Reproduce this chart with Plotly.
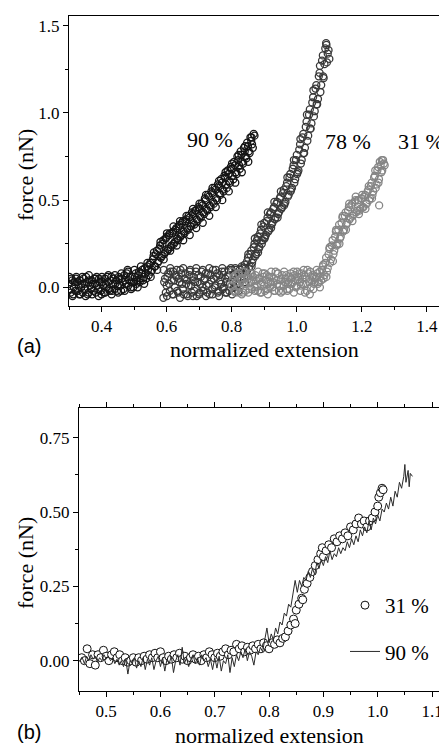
import plotly.graph_objects as go

# The page body has an 8px margin; the figure is sized to fill the rest of the 447x747 window.
OFF = 8
W, H = 447 - OFF, 747 - OFF

# ---------------- Panel (a) data ----------------
a90_x = [0.300,0.305,0.310,0.315,0.320,0.325,0.330,0.335,0.340,0.345,0.350,0.355,0.360,0.365,0.370,0.375,0.380,0.385,0.390,0.395,
         0.400,0.405,0.410,0.415,0.420,0.425,0.430,0.435,0.440,0.445,0.450,0.455,0.460,0.465,0.470,0.475,0.480,0.485,0.490,0.495,
         0.500,0.505,0.510,0.515,0.520,0.525,0.530,0.535,0.540,0.545,0.550,0.555,0.560,0.565,0.570,0.575,0.580,0.585,0.590,0.595,
         0.600,0.605,0.610,0.615,0.620,0.625,0.630,0.635,0.640,0.645,0.650,0.655,0.660,0.665,0.670,0.675,0.680,0.685,0.690,0.695,
         0.700,0.705,0.710,0.715,0.720,0.725,0.730,0.735,0.740,0.745,0.750,0.755,0.760,0.765,0.770,0.775,0.780,0.785,0.790,0.795,
         0.800,0.805,0.810,0.815,0.820,0.825,0.830,0.835,0.840,0.845,0.850,0.855,0.860,0.865,0.870]
a90_y = [0.02,-0.03,0.04,0.00,-0.02,0.03,0.01,-0.04,0.02,0.05,-0.01,0.03,-0.03,0.01,0.04,-0.02,0.02,0.06,-0.01,0.03,
         -0.04,0.01,0.05,0.00,0.03,-0.02,0.06,0.02,-0.01,0.04,0.01,0.05,-0.02,0.03,0.07,0.02,0.10,0.04,0.00,0.06,
         0.03,0.08,0.04,0.09,0.05,0.10,0.06,0.08,0.12,0.07,0.14,0.10,0.18,0.12,0.21,0.15,0.24,0.18,0.27,0.20,
         0.29,0.22,0.31,0.24,0.32,0.26,0.34,0.27,0.36,0.30,0.38,0.31,0.39,0.33,0.40,0.35,0.42,0.36,0.44,0.38,
         0.45,0.40,0.47,0.42,0.50,0.44,0.52,0.46,0.54,0.48,0.56,0.50,0.58,0.53,0.60,0.55,0.63,0.57,0.65,0.60,
         0.68,0.62,0.70,0.65,0.73,0.68,0.76,0.71,0.78,0.74,0.81,0.77,0.84,0.80,0.87]
a90b_x = [0.3025,0.3075,0.3125,0.3175,0.3225,0.3275,0.3325,0.3375,0.3425,0.3475,0.3525,0.3575,0.3625,0.3675,0.3725,0.3775,0.3825,0.3875,0.3925,0.3975,
          0.4025,0.4075,0.4125,0.4175,0.4225,0.4275,0.4325,0.4375,0.4425,0.4475,0.4525,0.4575,0.4625,0.4675,0.4725,0.4775,0.4825,0.4875,0.4925,0.4975,
          0.5025,0.5075,0.5125,0.5175,0.5225,0.5275,0.5325,0.5375,0.5425,0.5475,0.5525,0.5575,0.5625,0.5675,0.5725,0.5775,0.5825,0.5875,0.5925,0.5975,
          0.6025,0.6075,0.6125,0.6175,0.6225,0.6275,0.6325,0.6375,0.6425,0.6475,0.6525,0.6575,0.6625,0.6675,0.6725,0.6775,0.6825,0.6875,0.6925,0.6975,
          0.7025,0.7075,0.7125,0.7175,0.7225,0.7275,0.7325,0.7375,0.7425,0.7475,0.7525,0.7575,0.7625,0.7675,0.7725,0.7775,0.7825,0.7875,0.7925,0.7975,
          0.8025,0.8075,0.8125,0.8175,0.8225,0.8275,0.8325,0.8375,0.8425,0.8475,0.8525,0.8575,0.8625,0.8675]
a90b_y = [-0.01,0.05,-0.04,0.03,0.06,-0.02,0.04,0.00,-0.03,0.02,0.06,-0.04,0.04,-0.01,0.02,0.05,-0.03,0.01,0.05,-0.02,
          0.03,-0.03,0.02,0.06,-0.01,0.04,-0.02,0.05,0.02,-0.02,0.06,0.01,0.05,-0.01,0.04,0.08,0.01,0.06,0.03,0.00,
          0.06,0.02,0.07,0.03,0.08,0.04,0.11,0.05,0.10,0.13,0.09,0.16,0.12,0.19,0.14,0.22,0.17,0.25,0.19,0.28,
          0.21,0.30,0.23,0.31,0.25,0.33,0.28,0.35,0.29,0.37,0.32,0.38,0.34,0.41,0.35,0.43,0.37,0.44,0.39,0.46,
          0.41,0.48,0.43,0.51,0.45,0.53,0.47,0.55,0.49,0.57,0.51,0.59,0.54,0.62,0.56,0.64,0.59,0.67,0.61,0.69,
          0.64,0.72,0.66,0.75,0.70,0.78,0.72,0.80,0.75,0.83,0.78,0.86,0.82,0.88]
a90c_x = [0.301,0.311,0.321,0.331,0.341,0.351,0.361,0.371,0.381,0.391,0.401,0.411,0.421,0.431,0.441,0.451,0.461,0.471,0.481,0.491,
          0.501,0.511,0.521,0.531,0.541,0.551,0.561,0.571,0.581,0.591,0.601,0.611,0.621,0.631,0.641,0.651,0.661,0.671,0.681,0.691,
          0.701,0.711,0.721,0.731,0.741,0.751,0.761,0.771,0.781,0.791,0.801,0.811,0.821,0.831,0.841,0.851,0.861]
a90c_y = [0.06,-0.05,0.05,-0.04,0.06,-0.05,0.07,-0.04,0.05,-0.05,0.06,-0.03,0.07,-0.04,0.07,-0.03,0.08,-0.02,0.09,-0.01,
          0.10,0.00,0.12,0.02,0.14,0.06,0.20,0.10,0.26,0.16,0.31,0.21,0.35,0.24,0.38,0.27,0.41,0.30,0.45,0.34,
          0.48,0.37,0.53,0.41,0.57,0.46,0.61,0.50,0.66,0.55,0.71,0.60,0.76,0.66,0.81,0.72,0.86]

a78_x = [0.590,0.595,0.600,0.605,0.610,0.615,0.620,0.625,0.630,0.635,0.640,0.645,0.650,0.655,0.660,0.665,0.670,0.675,0.680,0.685,
         0.690,0.695,0.700,0.705,0.710,0.715,0.720,0.725,0.730,0.735,0.740,0.745,0.750,0.755,0.760,0.765,0.770,0.775,0.780,0.785,
         0.790,0.795,0.800,0.805,0.810,0.815,0.820,0.825,0.830,0.835,0.840,0.845,0.850,0.855,0.860,0.865,0.870,0.875,0.880,0.885,
         0.890,0.895,0.900,0.905,0.910,0.915,0.920,0.925,0.930,0.935,0.940,0.945,0.950,0.955,0.960,0.965,0.970,0.975,0.980,0.985,
         0.990,0.995,1.000,1.005,1.010,1.015,1.020,1.025,1.030,1.035,1.040,1.045,1.050,1.055,1.060,1.065,1.070,1.075,1.080,1.085,
         1.090,1.095,1.100]
a78_y = [-0.06,0.05,0.01,0.08,-0.02,0.04,0.09,0.00,0.06,-0.03,0.03,0.08,-0.01,0.05,0.02,-0.05,0.07,0.01,0.04,-0.02,
         0.09,0.03,-0.04,0.06,0.00,0.04,0.08,-0.03,0.02,0.07,-0.01,0.05,0.01,0.08,-0.02,0.04,0.09,0.00,0.05,-0.03,
         0.07,0.02,0.10,0.03,0.08,0.01,0.06,0.10,0.04,0.08,0.13,0.09,0.17,0.12,0.21,0.16,0.25,0.19,0.29,0.23,
         0.33,0.27,0.37,0.30,0.40,0.33,0.43,0.37,0.46,0.40,0.49,0.43,0.52,0.46,0.56,0.49,0.60,0.53,0.65,0.57,
         0.70,0.62,0.76,0.67,0.82,0.73,0.88,0.80,0.95,0.87,1.02,0.94,1.09,1.01,1.16,1.08,1.23,1.16,1.33,1.28,
         1.40,1.34,1.31]
a78b_x = [0.5925,0.5975,0.6025,0.6075,0.6125,0.6175,0.6225,0.6275,0.6325,0.6375,0.6425,0.6475,0.6525,0.6575,0.6625,0.6675,0.6725,0.6775,0.6825,0.6875,
          0.6925,0.6975,0.7025,0.7075,0.7125,0.7175,0.7225,0.7275,0.7325,0.7375,0.7425,0.7475,0.7525,0.7575,0.7625,0.7675,0.7725,0.7775,0.7825,0.7875,
          0.7925,0.7975,0.8025,0.8075,0.8125,0.8175,0.8225,0.8275,0.8325,0.8375,0.8425,0.8475,0.8525,0.8575,0.8625,0.8675,0.8725,0.8775,0.8825,0.8875,
          0.8925,0.8975,0.9025,0.9075,0.9125,0.9175,0.9225,0.9275,0.9325,0.9375,0.9425,0.9475,0.9525,0.9575,0.9625,0.9675,0.9725,0.9775,0.9825,0.9875,
          0.9925,0.9975,1.0025,1.0075,1.0125,1.0175,1.0225,1.0275,1.0325,1.0375,1.0425,1.0475,1.0525,1.0575,1.0625,1.0675,1.0725,1.0775,1.0825,1.0875,
          1.0925,1.0975]
a78b_y = [0.03,-0.03,0.06,0.02,0.09,-0.04,0.04,0.07,-0.02,0.05,0.10,0.02,-0.04,0.08,0.04,0.01,0.10,-0.03,0.06,0.03,
          -0.05,0.07,0.02,0.09,-0.02,0.05,0.01,0.08,-0.04,0.04,0.10,0.00,0.06,-0.03,0.07,0.02,-0.01,0.09,0.03,0.06,
          -0.02,0.11,0.04,0.00,0.10,0.05,0.02,0.08,0.11,0.06,0.11,0.15,0.11,0.19,0.14,0.23,0.18,0.27,0.22,0.31,
          0.25,0.35,0.29,0.38,0.32,0.42,0.36,0.45,0.39,0.48,0.42,0.51,0.45,0.54,0.48,0.58,0.52,0.63,0.56,0.68,
          0.60,0.73,0.66,0.79,0.71,0.86,0.77,0.92,0.84,0.99,0.91,1.06,0.98,1.14,1.05,1.21,1.12,1.30,1.20,1.37,
          1.29,1.36]
a78c_x = [0.591,0.601,0.611,0.621,0.631,0.641,0.651,0.661,0.671,0.681,0.691,0.701,0.711,0.721,0.731,0.741,0.751,0.761,0.771,0.781,
          0.791,0.801,0.811,0.821,0.831,0.841,0.851,0.861,0.871,0.881,0.891,0.901,0.911,0.921,0.931,0.941,0.951,0.961,0.971,0.981,
          0.991,1.001,1.011,1.021,1.031,1.041,1.051,1.061,1.071,1.081,1.091]
a78c_y = [0.10,-0.05,0.11,-0.04,0.10,-0.06,0.11,-0.04,0.09,-0.05,0.11,-0.03,0.10,-0.05,0.11,-0.04,0.10,-0.05,0.11,-0.03,
          0.10,-0.04,0.11,-0.02,0.12,0.03,0.19,0.12,0.28,0.20,0.36,0.28,0.43,0.34,0.49,0.40,0.55,0.47,0.63,0.55,
          0.73,0.65,0.85,0.77,0.99,0.91,1.13,1.05,1.27,1.21,1.39]

a31_x = [0.800,0.805,0.810,0.815,0.820,0.825,0.830,0.835,0.840,0.845,0.850,0.855,0.860,0.865,0.870,0.875,0.880,0.885,0.890,0.895,
         0.900,0.905,0.910,0.915,0.920,0.925,0.930,0.935,0.940,0.945,0.950,0.955,0.960,0.965,0.970,0.975,0.980,0.985,0.990,0.995,
         1.000,1.005,1.010,1.015,1.020,1.025,1.030,1.035,1.040,1.045,1.050,1.055,1.060,1.065,1.070,1.075,1.080,1.085,1.090,1.095,
         1.100,1.105,1.110,1.115,1.120,1.125,1.130,1.135,1.140,1.145,1.150,1.155,1.160,1.165,1.170,1.175,1.180,1.185,1.190,1.195,
         1.200,1.205,1.210,1.215,1.220,1.225,1.230,1.235,1.240,1.245,1.250,1.253,1.255,1.260,1.265,1.270]
a31_y = [0.01,0.06,-0.02,0.03,0.08,0.00,0.04,-0.03,0.05,0.02,0.07,-0.01,0.03,0.06,0.00,0.04,-0.02,0.05,0.02,0.08,
         0.01,0.04,-0.01,0.06,0.03,0.00,0.05,0.09,0.02,-0.02,0.04,0.07,0.01,0.05,-0.01,0.03,0.06,0.02,0.09,0.04,
         0.01,0.06,0.03,0.08,0.02,-0.03,0.05,0.08,-0.04,0.04,0.07,0.03,0.06,0.02,0.09,0.04,0.12,0.07,0.17,0.11,
         0.22,0.16,0.27,0.21,0.32,0.25,0.36,0.29,0.40,0.33,0.43,0.37,0.46,0.40,0.48,0.42,0.50,0.44,0.50,0.45,
         0.51,0.46,0.53,0.48,0.56,0.51,0.60,0.55,0.64,0.59,0.69,0.47,0.72,0.66,0.73,0.70]
a31b_x = [0.8025,0.8075,0.8125,0.8175,0.8225,0.8275,0.8325,0.8375,0.8425,0.8475,0.8525,0.8575,0.8625,0.8675,0.8725,0.8775,0.8825,0.8875,0.8925,0.8975,
          0.9025,0.9075,0.9125,0.9175,0.9225,0.9275,0.9325,0.9375,0.9425,0.9475,0.9525,0.9575,0.9625,0.9675,0.9725,0.9775,0.9825,0.9875,0.9925,0.9975,
          1.0025,1.0075,1.0125,1.0175,1.0225,1.0275,1.0325,1.0375,1.0425,1.0475,1.0525,1.0575,1.0625,1.0675,1.0725,1.0775,1.0825,1.0875,1.0925,1.0975,
          1.1025,1.1075,1.1125,1.1175,1.1225,1.1275,1.1325,1.1375,1.1425,1.1475,1.1525,1.1575,1.1625,1.1675,1.1725,1.1775,1.1825,1.1875,1.1925,1.1975,
          1.2025,1.2075,1.2125,1.2175,1.2225,1.2275,1.2325,1.2375,1.2425,1.2475,1.2525,1.2575,1.2625,1.2675]
a31b_y = [0.04,-0.02,0.07,0.01,-0.03,0.05,0.09,0.02,-0.02,0.06,0.03,0.08,-0.01,0.04,0.07,0.01,0.05,-0.03,0.03,0.06,
          -0.02,0.07,0.02,0.00,0.06,0.03,-0.02,0.04,0.08,0.01,0.05,-0.02,0.03,0.07,0.02,-0.01,0.05,0.03,0.07,0.00,
          0.04,0.08,0.01,0.05,0.07,0.02,0.10,0.03,0.00,0.06,0.02,0.05,0.08,0.03,0.06,0.10,0.05,0.14,0.09,0.19,
          0.14,0.24,0.19,0.29,0.24,0.33,0.28,0.37,0.32,0.41,0.36,0.44,0.39,0.47,0.41,0.49,0.43,0.50,0.44,0.51,
          0.46,0.52,0.48,0.55,0.50,0.58,0.53,0.63,0.57,0.67,0.62,0.70,0.67,0.71]
a31c_x = [0.801,0.811,0.821,0.831,0.841,0.851,0.861,0.871,0.881,0.891,0.901,0.911,0.921,0.931,0.941,0.951,0.961,0.971,0.981,0.991,
          1.001,1.011,1.021,1.031,1.041,1.051,1.061,1.071,1.081,1.091,1.101,1.111,1.121,1.131,1.141,1.151,1.161,1.171,1.181,1.191,
          1.201,1.211,1.221,1.231,1.241,1.251,1.261]
a31c_y = [0.09,-0.03,0.08,-0.04,0.09,-0.03,0.08,-0.02,0.09,-0.03,0.08,-0.04,0.09,-0.02,0.08,-0.03,0.09,-0.02,0.08,-0.03,
          0.09,-0.02,0.10,-0.02,0.09,-0.01,0.10,0.00,0.13,0.06,0.23,0.15,0.33,0.25,0.41,0.33,0.48,0.38,0.52,0.42,
          0.53,0.45,0.58,0.51,0.67,0.60,0.73]

# ---------------- Panel (b) data ----------------
b31_x = [0.455,0.460,0.465,0.470,0.475,0.480,0.485,0.490,0.495,0.500,0.505,0.510,0.515,0.520,0.525,0.530,0.535,0.540,0.545,0.550,
         0.555,0.560,0.565,0.570,0.575,0.580,0.585,0.590,0.595,0.600,0.605,0.610,0.615,0.620,0.625,0.630,0.635,0.640,0.645,0.650,
         0.655,0.660,0.665,0.670,0.675,0.680,0.685,0.690,0.695,0.700,0.705,0.710,0.715,0.720,0.725,0.730,0.735,0.740,0.745,0.750,
         0.755,0.760,0.765,0.770,0.775,0.780,0.785,0.790,0.795,0.800,0.805,0.810,0.815,0.820,0.825,0.830,0.835,0.840,0.845,0.848,
         0.850,0.855,0.860,0.862,0.865,0.870,0.875,0.880,0.885,0.890,0.895,0.898,0.900,0.905,0.910,0.915,0.920,0.925,0.930,0.935,
         0.940,0.945,0.950,0.955,0.960,0.965,0.970,0.975,0.980,0.985,0.990,0.995,1.000,1.002,1.005,1.008,1.010]
b31_y = [0.010,0.000,0.040,-0.010,0.020,-0.015,0.020,0.010,0.035,0.015,0.000,0.020,0.030,0.010,0.020,0.000,0.010,-0.005,0.000,0.010,
         -0.005,0.010,0.000,0.015,0.005,0.020,0.010,0.025,0.010,0.030,0.010,0.000,0.015,0.005,0.020,0.010,0.025,0.005,0.015,0.000,
         0.010,0.020,0.005,0.015,0.000,0.020,0.010,0.030,0.020,0.010,0.025,0.015,0.030,0.040,0.020,0.035,0.030,0.055,0.040,0.050,
         0.030,0.045,0.035,0.050,0.040,0.055,0.040,0.060,0.050,0.040,0.060,0.055,0.070,0.060,0.075,0.080,0.100,0.120,0.140,0.125,
         0.170,0.190,0.210,0.205,0.240,0.260,0.280,0.300,0.320,0.340,0.360,0.380,0.350,0.370,0.390,0.380,0.410,0.400,0.420,0.410,
         0.430,0.420,0.450,0.440,0.460,0.480,0.460,0.470,0.450,0.470,0.480,0.500,0.520,0.550,0.565,0.580,0.575]

b90_x = [0.452,0.456,0.460,0.464,0.468,0.472,0.476,0.480,0.484,0.488,0.492,0.496,0.500,0.504,0.508,0.512,0.516,0.520,0.524,0.528,
         0.532,0.536,0.540,0.544,0.548,0.552,0.556,0.560,0.564,0.568,0.572,0.576,0.580,0.584,0.588,0.592,0.596,0.600,0.604,0.608,
         0.612,0.616,0.620,0.624,0.628,0.632,0.636,0.640,0.644,0.648,0.652,0.656,0.660,0.664,0.668,0.672,0.676,0.680,0.684,0.688,
         0.692,0.696,0.700,0.704,0.708,0.712,0.716,0.720,0.724,0.728,0.732,0.736,0.740,0.744,0.748,0.752,0.756,0.760,0.764,0.768,
         0.772,0.776,0.780,0.784,0.788,0.792,0.796,0.800,0.804,0.808,0.812,0.816,0.820,0.824,0.828,0.832,0.836,0.840,0.844,0.848,
         0.852,0.856,0.860,0.864,0.868,0.872,0.876,0.880,0.884,0.888,0.892,0.896,0.900,0.904,0.908,0.912,0.916,0.920,0.924,0.928,
         0.932,0.936,0.940,0.944,0.948,0.952,0.956,0.960,0.964,0.968,0.972,0.976,0.980,0.984,0.988,0.992,0.996,1.000,1.004,1.008,
         1.012,1.016,1.020,1.024,1.028,1.032,1.036,1.040,1.044,1.048,1.050,1.052,1.056,1.058,1.060,1.064]
b90_y = [0.000,0.010,-0.010,0.015,0.000,0.020,0.005,0.015,-0.005,0.010,0.000,0.020,0.005,0.015,0.000,0.010,-0.010,0.005,-0.015,0.000,
         -0.020,0.005,-0.045,0.000,-0.010,0.010,-0.025,0.000,-0.020,0.010,-0.030,0.005,-0.015,0.010,-0.030,0.000,0.015,-0.020,0.010,-0.035,
         0.005,-0.010,0.015,-0.040,0.000,0.020,-0.015,0.045,-0.010,0.010,-0.020,0.005,0.020,-0.010,0.010,-0.015,0.020,0.000,0.010,-0.020,
         0.005,-0.030,0.010,-0.025,0.015,-0.035,0.000,-0.010,0.020,-0.040,0.010,-0.020,0.020,0.000,0.030,0.010,0.040,0.000,0.030,0.015,
         -0.015,0.030,0.020,0.045,0.030,0.070,0.110,0.060,0.090,0.070,0.110,0.090,0.130,0.120,0.160,0.150,0.190,0.180,0.220,0.270,
         0.230,0.270,0.250,0.280,0.270,0.300,0.280,0.310,0.290,0.330,0.310,0.340,0.320,0.350,0.330,0.370,0.340,0.360,0.350,0.380,
         0.360,0.380,0.370,0.400,0.380,0.410,0.390,0.420,0.400,0.440,0.420,0.450,0.430,0.470,0.440,0.480,0.460,0.490,0.470,0.510,
         0.500,0.530,0.510,0.550,0.520,0.570,0.550,0.600,0.580,0.620,0.660,0.600,0.640,0.585,0.630,0.620]

# labels
a_labels = ["90 %", "78 %", "31 %"]
b_labels = ["31 %", "90 %"]
a_colors = ["#141414", "#383838", "#858585"]

SERIF = "Liberation Serif"
fig = go.Figure()

def a_trace(x, y, color):
    fig.add_trace(go.Scatter(x=x, y=y, mode="markers", xaxis="x", yaxis="y", showlegend=False,
                             marker=dict(symbol="circle-open", size=7, color=color, line=dict(color=color, width=1.3))))

for xs, ys in [(a90c_x, a90c_y), (a90_x, a90_y), (a90b_x, a90b_y)]:
    a_trace(xs, ys, a_colors[0])
for xs, ys in [(a78c_x, a78c_y), (a78_x, a78_y), (a78b_x, a78b_y)]:
    a_trace(xs, ys, a_colors[1])
for xs, ys in [(a31c_x, a31c_y), (a31_x, a31_y), (a31b_x, a31b_y)]:
    a_trace(xs, ys, a_colors[2])

fig.add_trace(go.Scatter(x=b31_x, y=b31_y, mode="markers", xaxis="x2", yaxis="y2", name=b_labels[0],
                         legendgroup="g1",
                         marker=dict(symbol="circle", size=8, color="white", line=dict(color="#111111", width=1))))
fig.add_trace(go.Scatter(x=b90_x, y=b90_y, mode="lines", xaxis="x2", yaxis="y2", name=b_labels[1],
                         legendgroup="g2",
                         line=dict(color="#2a2a2a", width=1)))

axis_common = dict(showline=True, linecolor="black", linewidth=1, ticks="outside", ticklen=5,
                   tickcolor="black", tickwidth=1, showgrid=False, zeroline=False,
                   tickfont=dict(family=SERIF, size=17, color="black"))

def px_x(p):  # page pixel -> paper x
    return (p - OFF) / W
def px_y(p):  # page pixel -> paper y
    return 1 - (p - OFF) / H

fig.update_layout(
    width=W, height=H,
    margin=dict(l=0, r=0, t=0, b=0),
    paper_bgcolor="white", plot_bgcolor="white",
    xaxis=dict(domain=[px_x(69), 1], range=[0.3, 1.4615], anchor="y", mirror=True,
               tickvals=[0.4, 0.6, 0.8, 1.0, 1.2, 1.4], tickformat=".1f",
               minor=dict(tickvals=[0.3, 0.5, 0.7, 0.9, 1.1, 1.3], ticklen=3, ticks="outside", tickcolor="black"),
               **axis_common),
    yaxis=dict(domain=[px_y(306), px_y(16)], range=[-0.107, 1.556], anchor="x",
               tickvals=[0.0, 0.5, 1.0, 1.5], tickformat=".1f",
               minor=dict(tickvals=[0.25, 0.75, 1.25], ticklen=3, ticks="outside", tickcolor="black"),
               **axis_common),
    xaxis2=dict(domain=[px_x(79), 1], range=[0.45, 1.1276], anchor="y2", mirror="ticks",
                tickvals=[0.5, 0.6, 0.7, 0.8, 0.9, 1.0, 1.1], tickformat=".1f",
                minor=dict(tickvals=[0.45, 0.55, 0.65, 0.75, 0.85, 0.95, 1.05], ticklen=3, ticks="outside", tickcolor="black"),
                **axis_common),
    yaxis2=dict(domain=[px_y(690.7), px_y(407.7)], range=[-0.101, 0.851], anchor="x2",
                tickvals=[0.0, 0.25, 0.5, 0.75], tickformat=".2f",
                minor=dict(tickvals=[0.125, 0.375, 0.625], ticklen=3, ticks="outside", tickcolor="black"),
                **axis_common),
    legend=dict(x=px_x(345), y=px_y(585), xanchor="left", yanchor="top", bgcolor="rgba(0,0,0,0)",
                font=dict(family=SERIF, size=21, color="black"), tracegroupgap=16, traceorder="grouped"),
)

ann = []
def label(text, x, y, size=22, family=SERIF, angle=0, xanchor="center"):
    ann.append(dict(text=text, x=px_x(x), y=px_y(y), xref="paper", yref="paper", showarrow=False,
                    xanchor=xanchor, yanchor="middle", textangle=angle,
                    font=dict(family=family, size=size, color="black")))

label(a_labels[0], 210, 139.5)
label(a_labels[1], 347.5, 141.5)
label(a_labels[2], 420.5, 141.5)
label("force (nN)", 25, 175, angle=-90)
label("force (nN)", 25, 563, angle=-90)
label("normalized extension", 264, 350)
label("normalized extension", 269, 735)
label("(a)", 15, 346, size=20, family="Liberation Sans", xanchor="left")
label("(b)", 15, 732, size=20, family="Liberation Sans", xanchor="left")
fig.update_layout(annotations=ann)

fig.write_html("out.html")
